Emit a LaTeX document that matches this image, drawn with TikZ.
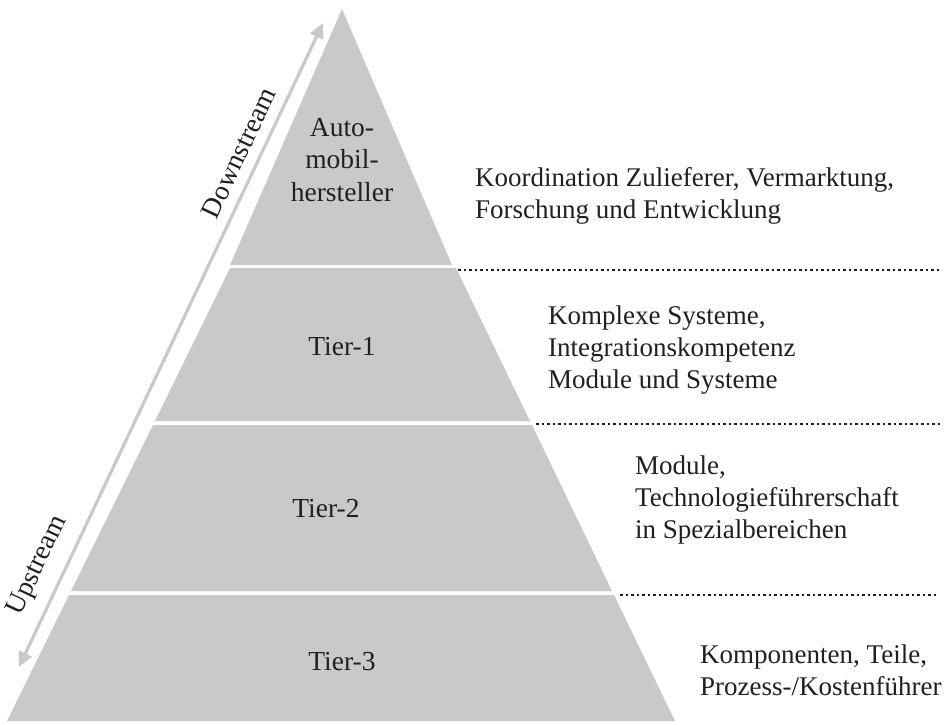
\documentclass[tikz,border=0pt]{standalone}
\usepackage{fontspec}
\setmainfont{Liberation Serif}
\usetikzlibrary{arrows.meta}
\definecolor{pyr}{RGB}{200,201,203}
\definecolor{txt}{RGB}{35,31,32}
\definecolor{dots}{RGB}{30,30,30}
\tikzset{
  tier/.style={fill=pyr, draw=none},
  lbl/.style={text=txt, inner sep=0pt, font=\fontsize{27.5}{32.5}\selectfont, align=center},
  desc/.style={text=txt, inner sep=0pt, font=\fontsize{27}{32}\selectfont, align=left, anchor=west},
  sep/.style={draw=dots, line width=2.5pt, dash pattern=on 2.5pt off 3pt},
  flow/.style={draw=pyr, line width=3.2pt, {Triangle[length=15pt,width=14pt]}-{Triangle[length=15pt,width=14pt]}}
}
\begin{document}
\begin{tikzpicture}[x=1pt,y=-1pt]
\useasboundingbox (0,0) rectangle (947,724);
% pyramid pieces
\fill[tier] (342,9) -- (452,265) -- (230,265) -- cycle;
\fill[tier] (230,268) -- (456,268) -- (530,421) -- (155,421) -- cycle;
\fill[tier] (153,425) -- (532,425) -- (612,591) -- (71,591) -- cycle;
\fill[tier] (69,595) -- (614,595) -- (675,721) -- (7,721) -- cycle;
% tier labels
\node[lbl] (oem) at (342,160) {Auto-\\mobil-\\hersteller};
\node[lbl] (t1) at (342,347) {Tier-1};
\node[lbl] (t2) at (326,509) {Tier-2};
\node[lbl] (t3) at (342,662) {Tier-3};
% descriptions
\node[desc] (d0) at (475,196) {Koordination Zulieferer, Vermarktung,\\Forschung und Entwicklung};
\node[desc] (d1) at (548,350) {Komplexe Systeme,\\Integrationskompetenz\\Module und Systeme};
\node[desc] (d2) at (635,500) {Module,\\Technologieführerschaft\\in Spezialbereichen};
\node[desc] (d3) at (700,670) {Komponenten, Teile,\\Prozess-/Kostenführer};
% dotted separators
\coordinate (s1a) at (458,270); \coordinate (s1b) at (940,270);
\coordinate (s2a) at (536,424); \coordinate (s2b) at (940,424);
\coordinate (s3a) at (620,595); \coordinate (s3b) at (937,595);
\draw[sep] (s1a) -- (s1b);
\draw[sep] (s2a) -- (s2b);
\draw[sep] (s3a) -- (s3b);
% flow arrow
\coordinate (up) at (19,667);
\coordinate (down) at (323,23);
\draw[flow] (up) -- (down);
\node[lbl, rotate=64.7] (ds) at (239,153) {Downstream};
\node[lbl, rotate=64.7] (us) at (38,566) {Upstream};
\end{tikzpicture}
\end{document}
